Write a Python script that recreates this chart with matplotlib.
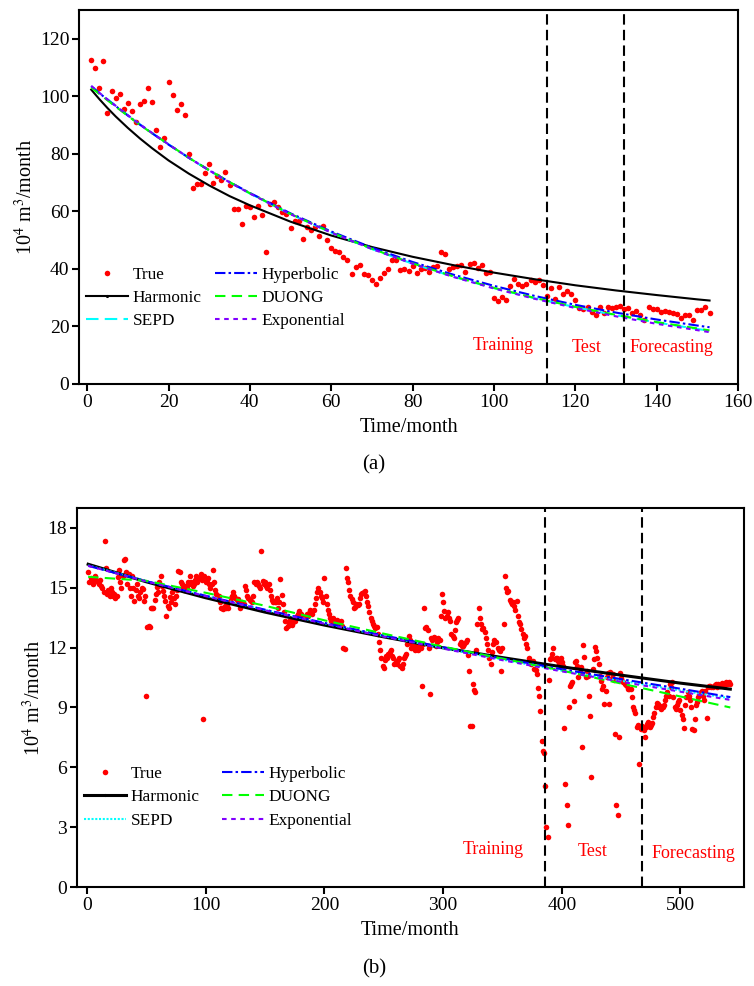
import matplotlib
matplotlib.use("Agg")
import matplotlib.pyplot as plt
import numpy as np

plt.rcParams["font.family"] = ["Liberation Serif", "DejaVu Serif"]
plt.rcParams["mathtext.fontset"] = "stix"

# ---------------- panel (a) data ----------------
# monthly production, months 1..153
true_a = [
    112.6, 109.8, 102.9, 112.1, 94.1, 101.8, 99.4, 100.8, 95.6, 97.8,
    94.9, 91.1, 97.3, 98.3, 102.7, 98.0, 88.2, 82.2, 85.4, 104.8,
    100.4, 95.3, 97.3, 93.5, 79.8, 68.2, 69.4, 69.4, 73.2, 76.3,
    69.9, 72.4, 70.8, 73.8, 69.2, 60.7, 60.8, 55.7, 61.8, 61.5,
    58.0, 62.0, 58.7, 46.0, 62.4, 63.2, 61.5, 59.6, 59.2, 54.3,
    56.7, 56.5, 50.3, 54.6, 53.4, 54.6, 51.6, 54.9, 50.2, 47.2,
    46.3, 46.0, 44.3, 43.0, 38.2, 40.5, 41.5, 38.3, 37.9, 36.1,
    34.7, 37.0, 38.4, 39.9, 43.1, 43.2, 39.5, 39.8, 39.4, 41.1,
    38.7, 40.0, 40.4, 38.8, 40.7, 40.9, 45.9, 45.1, 39.9, 40.5,
    41.1, 41.4, 39.0, 41.6, 42.2, 40.4, 41.4, 38.6, 38.8, 29.8,
    28.8, 30.3, 29.1, 34.2, 36.4, 34.7, 33.9, 34.9, 36.1, 35.6,
    36.3, 34.3, 30.6, 33.2, 29.4, 33.8, 31.2, 32.3, 31.4, 29.1,
    26.4, 25.9, 26.6, 25.0, 23.8, 26.8, 24.7, 26.6, 26.4, 26.8,
    27.1, 26.2, 26.3, 24.5, 25.4, 24.0, 22.4, 26.8, 26.1, 26.1,
    25.1, 25.4, 25.1, 24.5, 24.4, 22.8, 23.9, 23.9, 22.2, 25.7,
    25.7, 26.6, 24.7,
]
month_a = np.arange(1, len(true_a) + 1)

# fitted decline curves, read at a few months
fit_month_a = [1, 3, 5, 7, 10, 13, 16, 20, 25, 30, 35, 40, 50, 60, 70, 80, 90, 100, 110, 120, 130, 140, 150, 153]
harmonic_a = [102.3, 99.0, 95.9, 93.0, 89.0, 85.3, 81.9, 77.7, 73.1, 69.0, 65.3, 62.1, 56.4, 51.6, 47.6, 44.2,
              41.3, 38.7, 36.4, 34.3, 32.5, 30.9, 29.4, 29.0]
hyperbolic_a = [103.5, 101.1, 98.8, 96.6, 93.3, 90.1, 87.1, 83.2, 78.6, 74.3, 70.2, 66.4, 59.3, 53.0, 47.4, 42.4,
                38.0, 34.1, 30.6, 27.5, 24.8, 22.4, 20.3, 19.7]
duong_a = [103.0, 100.8, 98.6, 96.4, 93.2, 90.0, 87.1, 83.3, 78.6, 74.3, 70.2, 66.3, 59.1, 52.7, 47.0, 41.9,
           37.4, 33.4, 29.9, 26.8, 24.0, 21.5, 19.3, 18.6]
sepd_a = [103.4, 101.1, 98.9, 96.7, 93.4, 90.2, 87.2, 83.3, 78.6, 74.2, 70.1, 66.2, 59.0, 52.6, 46.9, 41.8,
          37.3, 33.3, 29.8, 26.7, 23.9, 21.4, 19.1, 18.5]
expo_a = [103.6, 101.2, 98.9, 96.7, 93.4, 90.2, 87.2, 83.3, 78.6, 74.2, 70.1, 66.2, 59.0, 52.6, 46.9, 41.8,
          37.2, 33.2, 29.6, 26.4, 23.5, 20.9, 18.7, 18.0]

split_a = [113, 132]

# ---------------- panel (b) data ----------------
true_b = [
    # months 1-60
    15.8, 15.3, 15.5, 15.4, 15.2, 15.5, 15.6, 15.4, 15.3, 15.2, 15.4, 15.1, 15.0, 14.8, 17.35, 16.0, 14.7, 14.9, 14.6, 15.0,
    14.8, 14.6, 14.7, 14.5, 14.6, 15.55, 15.9, 15.3, 15.0, 15.6, 16.4, 16.45, 15.8, 15.2, 15.68, 15.0, 14.6, 15.6, 15.0, 14.35,
    14.9, 15.18, 14.6, 14.5, 14.77, 15.0, 14.93, 14.35, 14.6, 9.55, 13.02, 13.1, 13.05, 13.98, 14.0, 13.98, 14.4, 14.7, 15.02, 14.8,
    # months 61-110
    15.3, 15.6, 15.1, 14.85, 14.6, 14.35, 13.6, 14.1, 13.98, 14.52, 14.3, 14.77, 14.5, 14.2, 14.6, 14.9,
    15.85, 15.8, 15.3, 15.2, 15.0, 14.9, 15.1, 15.0, 15.3, 15.2, 15.6, 15.3, 15.1, 15.2, 15.4, 15.6, 15.3, 15.5, 15.5, 15.7,
    15.4, 8.4, 15.6, 15.3, 15.4, 15.5, 15.2, 15.0, 15.2, 15.9, 15.3, 14.9, 14.7, 14.6,
    # months 111-160
    14.6, 14.3, 14.0, 14.0, 13.95, 14.1, 14.0, 14.2, 14.0, 14.3, 14.5, 14.6, 14.77, 14.6, 14.5, 14.4, 14.45, 14.3, 14.0, 14.2,
    14.3, 14.2, 15.1, 14.9, 14.6, 14.5, 14.4, 14.35, 14.3, 14.6, 15.27, 15.2, 15.3, 15.2, 15.1, 15.0, 16.82, 15.35, 15.2, 15.3,
    15.1, 15.0, 15.2, 14.9, 14.6, 14.4, 14.3, 14.27, 14.3, 14.5,
    # months 161-240
    14.0, 14.3, 15.45, 14.65, 14.2, 13.8, 13.35, 13.0, 13.1, 13.27, 13.4, 13.2, 13.15, 13.3, 13.35, 13.5, 13.6, 13.7, 13.85, 13.7,
    13.6, 13.5, 13.55, 13.5, 13.7, 13.6, 13.75, 13.9, 13.85, 13.7, 13.9, 14.2, 14.5, 14.8, 15.0, 14.77, 14.6, 14.5, 14.3, 15.5,
    14.6, 14.2, 13.9, 13.7, 13.5, 13.35, 13.5, 13.4, 13.3, 13.2, 13.4, 13.2, 13.3, 13.35, 13.1, 12.0, 11.95, 16.0, 15.5, 15.27,
    14.9, 14.6, 14.45, 14.3, 14.0, 14.05, 14.2, 14.15, 14.2, 14.5, 14.7, 14.75, 14.8, 14.85, 14.6, 14.3, 14.1, 13.8, 13.5, 13.35,
    # months 241-295
    13.2, 13.1, 13.0, 13.05, 12.7, 12.3, 11.9, 11.5, 11.1, 11.0, 11.4, 11.6, 11.5, 11.7, 11.8, 11.9, 11.6, 11.5, 11.2, 11.3,
    11.2, 11.4, 11.5, 11.1, 11.0, 11.2, 11.5, 11.6, 11.7, 12.2, 12.6, 12.4, 12.0, 12.2, 12.0, 11.9, 12.1, 12.0, 11.9, 12.2,
    12.0, 10.1, 12.2, 14.0, 13.0, 13.05, 12.9, 12.0, 9.7, 12.5, 12.4, 12.55, 12.5, 12.1, 12.3,
    # months 296-336
    12.5, 12.4, 13.6, 14.7, 14.3, 13.85, 13.5, 13.6, 13.8, 13.5, 13.35, 12.7, 12.6, 12.5, 12.9, 13.3, 13.4, 13.5, 12.2, 12.3,
    12.1, 12.1, 12.2, 12.3, 12.4, 11.65, 10.85, 8.05, 8.05, 10.2, 9.9, 9.8, 11.9, 13.2, 14.0, 13.5, 13.2, 12.95, 13.0, 12.8,
    12.5,
    # months 337-388
    12.2, 11.9, 11.5, 11.2, 11.8, 12.2, 12.4, 12.3, 12.3, 12.0, 11.9, 11.85, 10.85, 12.0, 13.2, 15.6, 15.0, 14.8, 14.85, 14.4,
    14.3, 14.2, 14.3, 14.1, 13.9, 14.35, 13.6, 13.3, 13.2, 12.95, 12.7, 12.5, 12.6, 12.2, 12.0, 11.5, 11.35, 11.2, 11.3, 11.35,
    10.95, 10.9, 10.7, 10.0, 9.6, 8.8, 7.3, 6.8, 6.7, 5.05, 3.0, 2.5,
    # months 389-468 (test)
    10.4, 11.43, 11.48, 11.7, 11.98, 11.43, 11.5, 11.48, 11.35, 11.2, 11.48, 11.27, 11.1, 7.98, 5.18, 4.1, 3.13, 9.0, 10.1, 10.18,
    10.27, 9.32, 11.27, 11.35, 11.1, 10.55, 10.8, 11.02, 7.0, 12.15, 11.52, 10.52, 10.85, 10.6, 9.6, 8.55, 5.5, 10.93, 11.43, 12.02,
    11.85, 11.48, 11.18, 10.6, 10.35, 9.93, 10.1, 9.18, 9.85, 10.52, 10.72, 9.18, 10.77, 10.5, 10.68, 10.4, 7.68, 4.1, 3.6, 7.52,
    10.72, 10.5, 10.35, 10.27, 10.2, 10.15, 10.1, 9.93, 9.95, 9.93, 9.5, 9.0, 8.85, 8.7, 8.03, 8.1, 6.18, 8.03, 7.9, 8.05,
    # months 469-542 (forecasting)
    7.85, 7.52, 8.0, 8.18, 8.27, 8.02, 8.1, 8.2, 8.52, 8.7, 9.02, 9.22, 9.18, 9.0, 9.05, 8.93, 9.0, 9.1, 9.35, 9.6,
    9.77, 9.6, 10.18, 10.02, 10.3, 9.5, 9.0, 8.93, 9.1, 9.27, 9.35, 8.85, 8.6, 8.43, 7.98, 9.1, 9.52, 9.77, 9.6, 9.35,
    9.0, 7.93, 7.85, 8.43, 9.1, 9.27, 9.52, 9.68, 9.77, 9.85, 9.6, 9.35, 9.85, 8.48, 10.02, 10.1, 10.1, 10.05, 10.02, 10.1,
    10.13, 10.18, 10.05, 10.2, 10.1, 10.15, 10.25, 10.2, 10.1, 10.3, 10.2, 10.25, 10.3, 10.2,
]
month_b = np.arange(1, len(true_b) + 1)

fit_month_b = [1, 50, 100, 150, 200, 250, 300, 350, 400, 450, 500, 542]
harmonic_b = [16.18, 15.30, 14.50, 13.78, 13.13, 12.54, 11.99, 11.50, 11.04, 10.62, 10.22, 9.92]
hyperbolic_b = [16.10, 15.33, 14.60, 13.90, 13.24, 12.61, 12.02, 11.46, 10.92, 10.42, 9.94, 9.52]
duong_b = [15.55, 15.35, 14.75, 14.10, 13.37, 12.70, 12.05, 11.45, 10.85, 10.20, 9.55, 9.00]
sepd_b = [16.12, 15.34, 14.60, 13.89, 13.22, 12.58, 11.98, 11.40, 10.85, 10.34, 9.85, 9.46]
expo_b = [16.10, 15.32, 14.58, 13.87, 13.20, 12.55, 11.95, 11.37, 10.81, 10.29, 9.79, 9.38]

split_b = [385.6, 468]

# ---------------- figure ----------------
fig = plt.figure(figsize=(7.54, 9.86), dpi=100)
ax1 = fig.add_axes([0.1048, 0.6106, 0.874, 0.3793])
ax2 = fig.add_axes([0.1021, 0.1004, 0.8846, 0.3844])

red = "#ff0000"


def draw_panel(ax, month, true, fm, harm, hyp, duong, sepd, expo, sepd_style, black_lw):
    ax.plot(month, true, "o", color=red, markersize=4.0, markeredgewidth=0, label="True")
    # small dot shows only in the legend handle
    ax.plot(fm, harm, "-", color="black", lw=black_lw, marker=".", markersize=2.5,
            markevery=[], label="Harmonic")
    ax.plot(fm, sepd, color="#00ffff", lw=1.5, dashes=sepd_style, label="SEPD")
    ax.plot(fm, hyp, color="#0000ff", lw=1.5, dashes=(5, 1.5, 1.2, 1.5), label="Hyperbolic")
    ax.plot(fm, duong, color="#00ff00", lw=1.5, dashes=(5, 3), label="DUONG")
    ax.plot(fm, expo, color="#8000ff", lw=1.5, dashes=(2.2, 2.2), label="Exponential")


draw_panel(ax1, month_a, true_a, fit_month_a, harmonic_a, hyperbolic_a, duong_a,
           sepd_a, expo_a, (6, 3), 1.5)
draw_panel(ax2, month_b, true_b, fit_month_b, harmonic_b, hyperbolic_b, duong_b,
           sepd_b, expo_b, (1, 0.8), 2.2)

for ax, splits in ((ax1, split_a), (ax2, split_b)):
    for s in splits:
        ax.axvline(s, color="black", lw=1.5, dashes=(5, 2.5))

# axes ranges and ticks
ax1.set_xlim(-2, 160)
ax1.set_ylim(0, 130)
ax1.set_xticks(np.arange(0, 161, 20))
ax1.set_yticks(np.arange(0, 121, 20))

ax2.set_xlim(-8.4, 553.5)
ax2.set_ylim(0, 19)
ax2.set_xticks(np.arange(0, 501, 100))
ax2.set_yticks(np.arange(0, 19, 3))

for ax in (ax1, ax2):
    for sp in ax.spines.values():
        sp.set_linewidth(1.5)
    ax.tick_params(direction="out", length=5, width=1.5, labelsize=14, pad=2)
    ax.set_xlabel("Time/month", fontsize=14.5, labelpad=5)
    ax.set_ylabel("10$^{4}$ m$^{3}$/month", fontsize=14.5, labelpad=2)

# section labels
ax1.text(102.2, 13.5, "Training", color=red, fontsize=13, ha="center", va="center")
ax1.text(122.9, 12.8, "Test", color=red, fontsize=13, ha="center", va="center")
ax1.text(143.7, 12.5, "Forecasting", color=red, fontsize=13, ha="center", va="center")

ax2.text(342, 1.9, "Training", color=red, fontsize=13, ha="center", va="center")
ax2.text(425.8, 1.8, "Test", color=red, fontsize=13, ha="center", va="center")
ax2.text(511, 1.7, "Forecasting", color=red, fontsize=13, ha="center", va="center")

# legends
ax1.legend(loc="upper left", bbox_to_anchor=(0.0106, 0.314), ncol=2, frameon=False,
           fontsize=12.4, borderpad=0, borderaxespad=0, labelspacing=0.42,
           handlelength=2.45, handletextpad=0.25, columnspacing=0.8)
ax2.legend(loc="upper left", bbox_to_anchor=(0.0105, 0.319), ncol=2, frameon=False,
           fontsize=12.4, borderpad=0, borderaxespad=0, labelspacing=0.42,
           handlelength=2.45, handletextpad=0.25, columnspacing=1.3)

fig.text(0.496, 0.529, "(a)", fontsize=15, ha="center", va="center")
fig.text(0.496, 0.017, "(b)", fontsize=15, ha="center", va="center")

fig.savefig("out.png", dpi=100)
